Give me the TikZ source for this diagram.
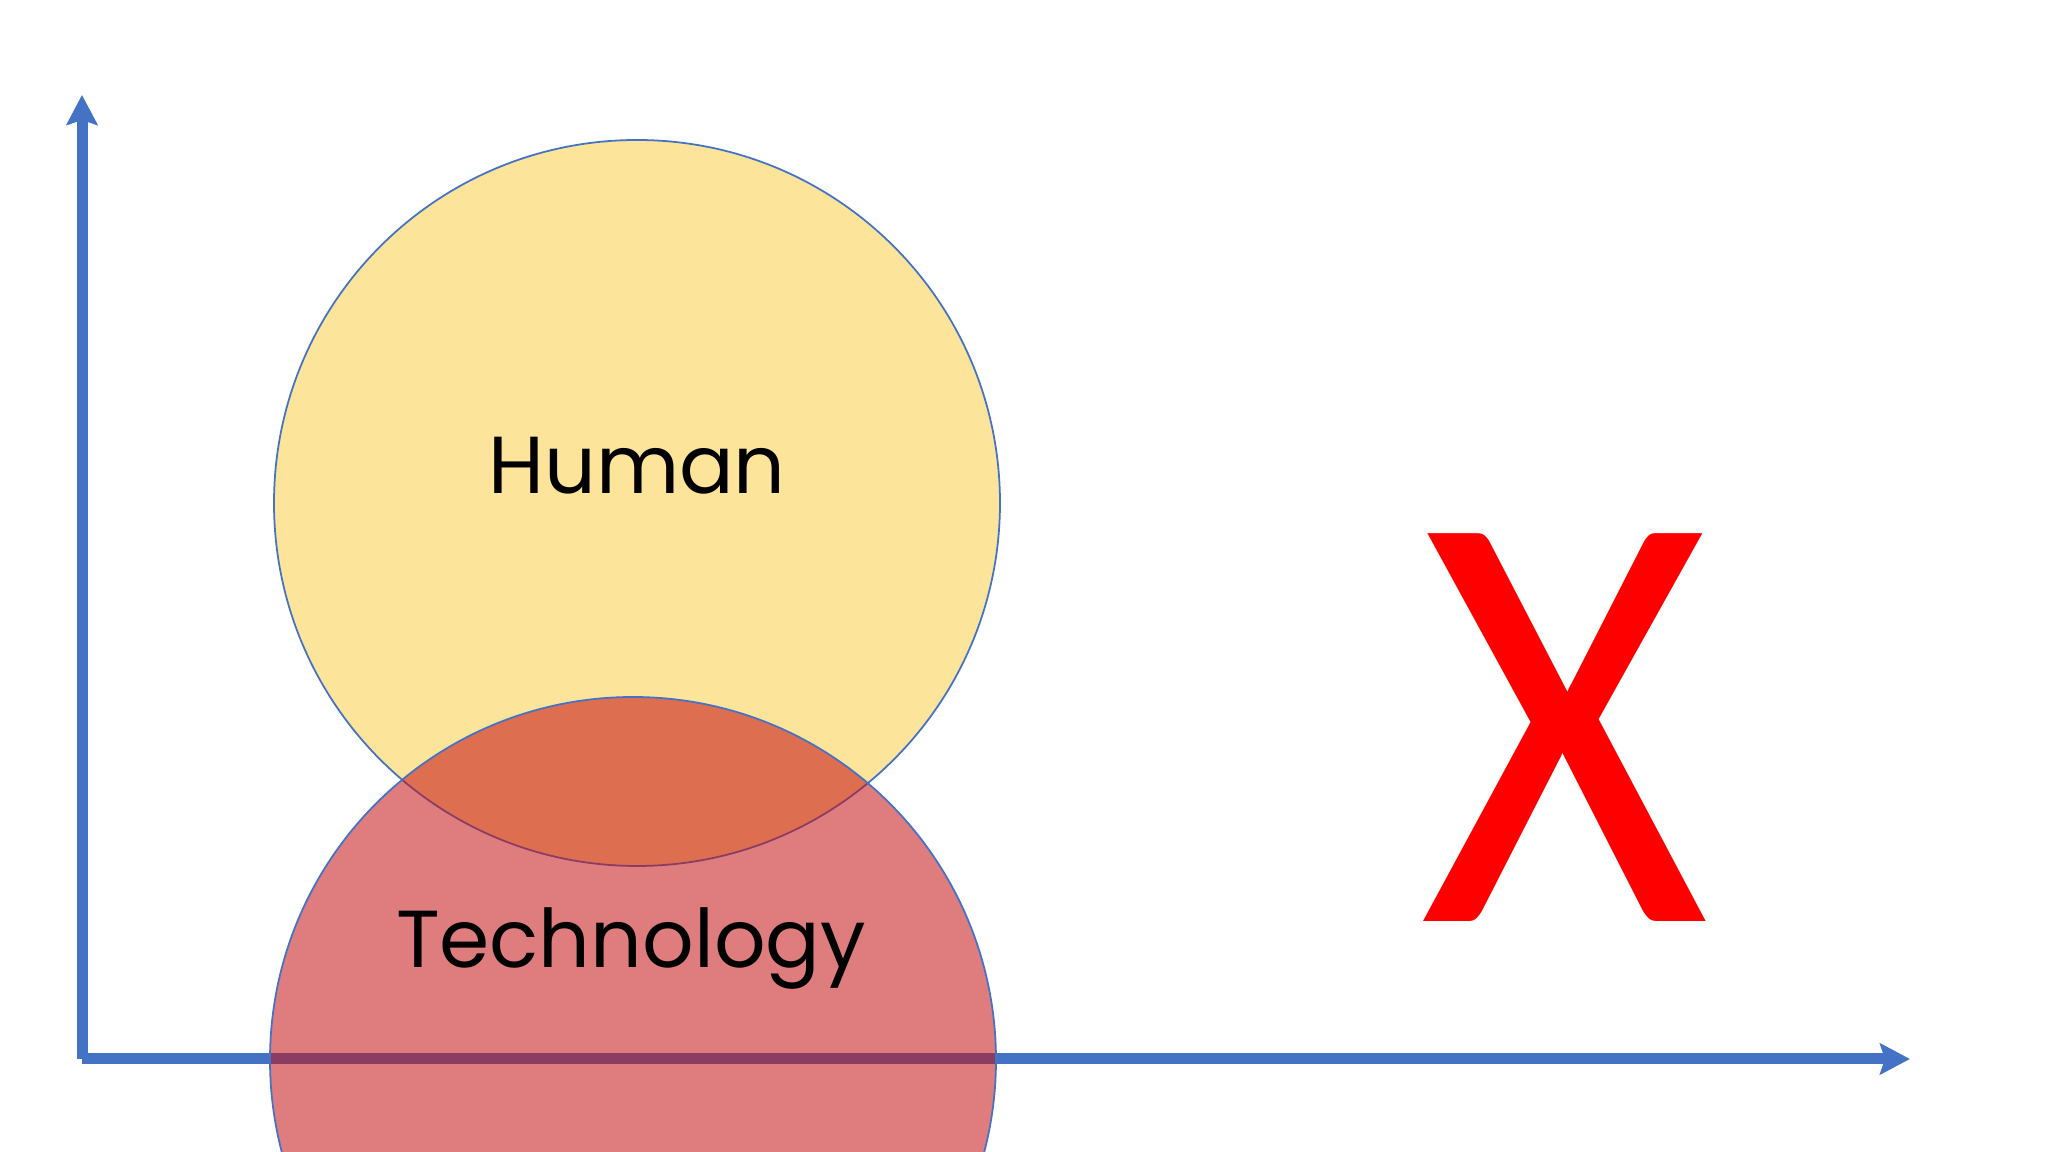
\documentclass[tikz,border=0pt]{standalone}
\usepackage{fontspec}
\setmainfont{Poppins}
\newfontfamily\xfont{Carlito}
\usetikzlibrary{arrows.meta}
\definecolor{axisblue}{HTML}{4472C4}
\definecolor{humanyellow}{HTML}{FCE49A}
\definecolor{techred}{HTML}{C41014}

\begin{document}
\begin{tikzpicture}[axis/.style={draw=axisblue,line width=0.11cm,-{Stealth[width=0.31cm,length=0.30cm,inset=0.05cm]}},
  ring/.style={circle,draw=axisblue,line width=0.5pt,minimum size=7.26cm,inner sep=0pt},
  word/.style={font=\fontsize{23}{23}\selectfont,anchor=base}]
  \useasboundingbox (0,0) rectangle (20.48,11.52);
  \clip (0,0) rectangle (20.48,11.52);
  \coordinate (o)  at (0.82,0.93);
  \coordinate (yt) at (0.82,10.57);
  \coordinate (xt) at (19.10,0.93);
  \draw[axis] (o) -- (yt);
  \draw[axis] (o) -- (xt);
  \node[ring,fill=humanyellow] (human) at (6.37,6.49) {};
  \node[ring,fill=techred,fill opacity=0.55] (tech) at (6.33,0.92) {};
  \node[word] (h) at (6.37,6.58) {Human};
  \node[word] (t) at (6.31,1.84) {Technology};
  \node[anchor=base,text=red,font=\xfont\fontsize{172}{172}\selectfont] (x) at (15.65,2.30) {\scalebox{0.92}[1]{X}};
\end{tikzpicture}
\end{document}
